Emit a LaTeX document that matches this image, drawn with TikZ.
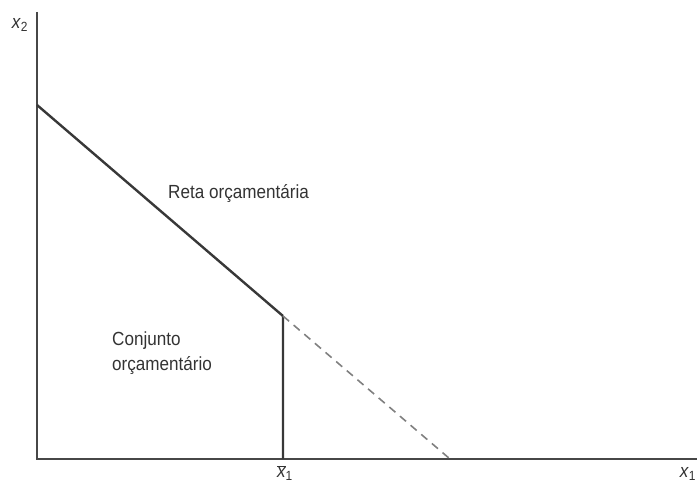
\documentclass[tikz,border=0pt]{standalone}
\usepackage{fontspec}
\setmainfont[FakeStretch=0.9]{Liberation Sans}
\usetikzlibrary{arrows}

\begin{document}
\begin{tikzpicture}[x=1pt,y=-1pt,font=\fontsize{19}{25}\selectfont]
  \tikzstyle{every node}=[text=black!80,inner sep=0pt]
  \tikzstyle{eixo}=[draw=black!72,line width=2.4pt]
  \tikzstyle{reta}=[draw=black!78,line width=2.4pt]
  \tikzstyle{tracejada}=[draw=black!50,line width=1.6pt,dash pattern=on 8pt off 6pt]
  \useasboundingbox (0,0) rectangle (697,487);
  \path (37,459) coordinate (O);
\path (37,12) coordinate (Y);
\path (697,459) coordinate (X);
\path (37,105) coordinate (A);
\path (283,316) coordinate (K);
\path (283,459) coordinate (B);
\path (450,459) coordinate (D);
  \path (20,25) node (ylab) {\textit{x}\textsubscript{2}};
\path (688,474) node (xlab) {\textit{x}\textsubscript{1}};
\path (285,473) node (xbar) {$\overline{\textit{x}}$\textsubscript{1}};
\path (168,198) node[anchor=base west] (reta) {Reta orçamentária};
\path (112,332) node[anchor=north west,align=left] (conj) {Conjunto\\orçamentário};
  \draw[eixo] (Y) -- (O) -- (X);
  \draw[reta] (A) -- (K)
        (K) -- (B);
  \draw[tracejada] (K) -- (D);
\end{tikzpicture}
\end{document}
